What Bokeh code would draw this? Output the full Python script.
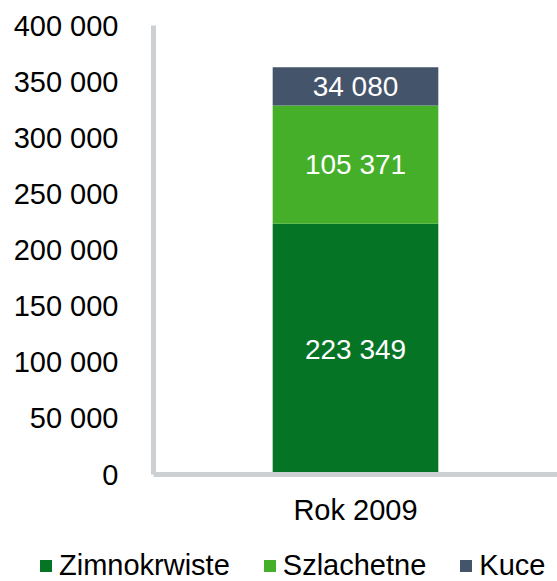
from bokeh.plotting import figure
from bokeh.models import ColumnDataSource, FactorRange, Range1d, Legend, LegendItem, LabelSet, FixedTicker
from bokeh.core.properties import value
from bokeh.embed import file_html
from bokeh.resources import INLINE

categories = ["Rok 2009"]
series_names = ["Zimnokrwiste", "Szlachetne", "Kuce"]
zimnokrwiste = [223349]
szlachetne = [105371]
kuce = [34080]
colors = ["#067425", "#45AF2A", "#44546A"]
y_ticks = [0, 50000, 100000, 150000, 200000, 250000, 300000, 350000, 400000]
y_tick_labels = ["0", "50 000", "100 000", "150 000", "200 000", "250 000", "300 000", "350 000", "400 000"]

FONT = "Liberation Sans"
FS = "28px"
FS_AX = "29px"
AXIS_COLOR = "#CDD0D3"

def fmt(v):
    return f"{v:,}".replace(",", " ")

data = {"cat": categories, "Zimnokrwiste": zimnokrwiste, "Szlachetne": szlachetne, "Kuce": kuce}
source = ColumnDataSource(data)

p = figure(x_range=FactorRange(*categories, range_padding=0.0), y_range=Range1d(0, 400000),
           width=557, height=530, output_backend="svg", toolbar_location=None,
           min_border_left=153, min_border_right=0, min_border_top=25, min_border_bottom=56)

renderers = p.vbar_stack(series_names, x="cat", width=0.41, color=colors, source=source, line_width=0)

# labels
lab_x, lab_y, lab_t = [], [], []
base = 0
for arr in [zimnokrwiste, szlachetne, kuce]:
    v = arr[0]
    lab_x.append(categories[0])
    lab_y.append(base + v / 2)
    lab_t.append(fmt(v))
    base += v
lsrc = ColumnDataSource(dict(x=lab_x, y=lab_y, t=lab_t))
labels = LabelSet(x="x", y="y", text="t", source=lsrc, text_color="white", text_font=value(FONT),
                  text_font_size=value(FS), text_align="center", text_baseline="middle")
p.add_layout(labels)

p.xgrid.visible = False
p.ygrid.visible = False
p.outline_line_color = None

for ax in (p.xaxis[0], p.yaxis[0]):
    ax.axis_line_color = AXIS_COLOR
    ax.axis_line_width = 5
    ax.major_tick_line_color = None
    ax.minor_tick_line_color = None
    ax.major_label_text_font = FONT
    ax.major_label_text_font_size = FS_AX
    ax.major_label_text_color = "black"

p.yaxis[0].ticker = FixedTicker(ticks=y_ticks)
p.yaxis[0].major_label_overrides = {t: l for t, l in zip(y_ticks, y_tick_labels)}
p.yaxis[0].major_label_standoff = 29
p.xaxis[0].major_label_standoff = 13

# legend figure (separate root so the legend is not clipped by the chart frame);
# its bars have zero width and lie outside its y range, only the legend shows
lg = figure(width=557, height=51, output_backend="svg", toolbar_location=None,
            x_axis_location=None, y_axis_location=None, min_border=0,
            x_range=FactorRange(*categories), y_range=Range1d(-800000, -400000))
lg.xgrid.visible = False
lg.ygrid.visible = False
lg.outline_line_color = None
lg_rs = lg.vbar_stack(series_names, x="cat", width=0, color=colors, source=source, line_width=0)

legend = Legend(items=[LegendItem(label=n, renderers=[r]) for n, r in zip(series_names, lg_rs)],
                location=(38, -1), orientation="horizontal",
                glyph_width=15, glyph_height=15, label_standoff=6, spacing=32,
                padding=0, margin=0, border_line_color=None, background_fill_alpha=0,
                label_text_font=FONT, label_text_font_size=FS_AX, label_text_color="black")
lg.add_layout(legend, "center")

open("out.html", "w").write(file_html([p, lg], INLINE))
